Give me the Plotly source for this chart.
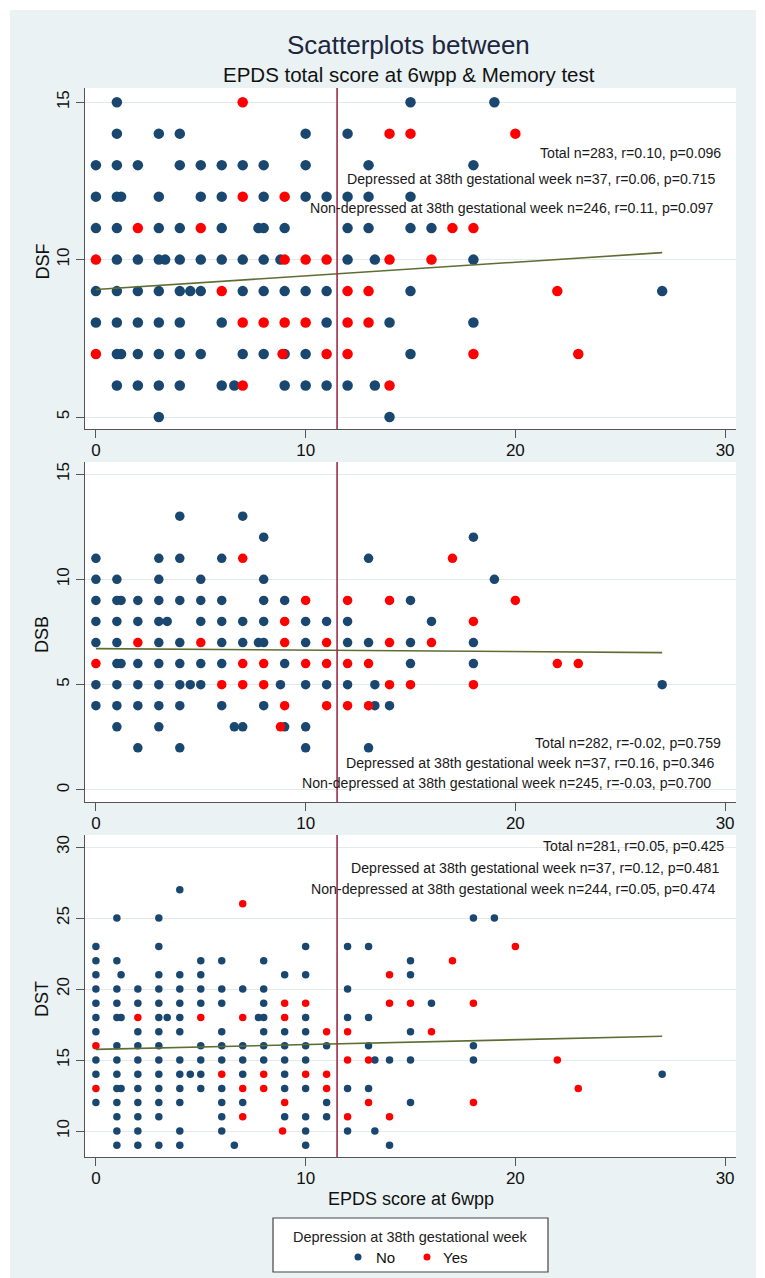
import plotly.graph_objects as go

# The page keeps the browser's default 8px body margin, so the figure is sized to
# fill the rest of the 765x1278 window and positions are given in window pixels.
PAGE_OFF = 8
W, H = 765 - PAGE_OFF, 1278 - PAGE_OFF

# ---------------- data ----------------
x_ticks = [0, 10, 20, 30]
cutoff = 11.5  # EPDS cut-off line

# DSF (rows: score -> EPDS values)
dsf_no = {
    15: [1, 15, 19],
    14: [1, 3, 4, 10, 12],
    13: [0, 1, 2, 4, 5, 6, 7, 8, 10, 13, 18],
    12: [0, 1, 1.2, 3, 5, 6, 8, 10, 11, 12, 13, 15],
    11: [0, 1, 3, 4, 6, 7.75, 8, 9, 12, 13, 15, 16],
    10: [1, 2, 3, 3.3, 4, 5, 6, 7, 8, 8.8, 12, 13.3, 18],
    9: [0, 1, 2, 3, 4, 4.5, 5, 7, 8, 9, 10, 11, 15, 27],
    8: [0, 1, 2, 3, 4, 6, 11, 14, 18],
    7: [1, 1.2, 2, 3, 4, 5, 7, 8, 9, 10, 15],
    6: [1, 2, 3, 4, 6, 6.6, 9, 10, 11, 12, 13.3],
    5: [3, 14],
}
dsf_yes = {
    15: [7],
    14: [14, 15, 20],
    12: [7, 9],
    11: [2, 5, 17, 18],
    10: [0, 9, 10, 11, 14, 16],
    9: [6, 12, 13, 22],
    8: [7, 8, 9, 10, 12, 13],
    7: [0, 8.9, 11, 12, 18, 23],
    6: [7, 14],
}
dsf_fit_x = [0, 27]
dsf_fit_y = [9.05, 10.22]
dsf_stats = ["Total n=283, r=0.10, p=0.096",
             "Depressed at 38th gestational week n=37, r=0.06, p=0.715",
             "Non-depressed at 38th gestational week n=246, r=0.11, p=0.097"]

# DSB
dsb_no = {
    13: [4, 7],
    12: [8, 18],
    11: [0, 3, 4, 6, 13],
    10: [0, 1, 3, 5, 8, 19],
    9: [0, 1, 1.2, 2, 3, 4, 5, 6, 8, 9, 15],
    8: [0, 1, 2, 3, 3.4, 5, 6, 7, 8, 10, 11, 12, 16],
    7: [0, 1, 3, 4, 6, 7, 7.75, 8, 10, 12, 13, 15, 18],
    6: [1, 1.2, 2, 3, 4, 5, 6, 9, 15, 18],
    5: [0, 1, 2, 3, 4, 4.5, 5, 8.8, 10, 11, 12, 13.3, 27],
    4: [0, 1, 2, 3, 4, 6, 8, 13.3, 14],
    3: [1, 3, 6.6, 7, 9, 10],
    2: [2, 4, 10, 13],
}
dsb_yes = {
    11: [7, 17],
    9: [10, 12, 14, 20],
    8: [9, 18],
    7: [2, 5, 9, 11, 14, 16],
    6: [0, 7, 8, 10, 11, 12, 13, 22, 23],
    5: [6, 7, 8, 14, 15, 18],
    4: [9, 11, 12, 13],
    3: [8.8],
}
dsb_fit_x = [0, 27]
dsb_fit_y = [6.71, 6.52]
dsb_stats = ["Total n=282, r=-0.02, p=0.759",
             "Depressed at 38th gestational week n=37, r=0.16, p=0.346",
             "Non-depressed at 38th gestational week n=245, r=-0.03, p=0.700"]

# DST
dst_no = {
    27: [4],
    25: [1, 3, 18, 19],
    23: [0, 3, 10, 12, 13],
    22: [0, 1, 5, 6, 8, 15],
    21: [0, 1.2, 3, 4, 5, 9, 10, 15],
    20: [0, 1, 2, 3, 4, 5, 6, 7, 8, 12],
    19: [0, 1, 2, 3, 4, 5, 6, 8, 16],
    18: [0, 1, 1.2, 3, 3.4, 4, 7.75, 8, 10, 12, 13],
    17: [0, 2, 3, 4, 6, 8, 9, 10, 15],
    16: [1, 2, 3, 5, 6, 7, 8, 9, 10, 11, 13, 18],
    15: [0, 1, 2, 3, 4, 5, 6, 7, 8, 9, 10, 13.3, 14, 15, 18],
    14: [0, 1, 2, 3, 4, 4.5, 5, 7, 9, 27],
    13: [1, 1.2, 2, 3, 4, 5, 6, 9, 10, 12, 13],
    12: [0, 1, 2, 3, 4, 6, 7, 11, 15],
    11: [1, 2, 3, 6, 9, 10, 11],
    10: [1, 2, 4, 6, 10, 12, 13.3],
    9: [1, 2, 3, 4, 6.6, 10, 14],
}
dst_yes = {
    26: [7],
    23: [20],
    22: [17],
    21: [14],
    19: [9, 10, 14, 15, 18],
    18: [2, 5, 7, 9],
    17: [11, 12, 16],
    16: [0],
    15: [12, 13, 22],
    14: [6, 8, 10, 11],
    13: [0, 7, 8, 11, 23],
    12: [9, 13, 18],
    11: [7, 12, 14],
    10: [8.9],
}
dst_fit_x = [0, 27]
dst_fit_y = [15.75, 16.67]
dst_stats = ["Total n=281, r=0.05, p=0.425",
             "Depressed at 38th gestational week n=37, r=0.12, p=0.481",
             "Non-depressed at 38th gestational week n=244, r=0.05, p=0.474"]

legend_title = "Depression at 38th gestational week"
legend_labels = ["No", "Yes"]

# ---------------- style ----------------
NAVY = "#1a476f"
RED = "#ff0000"
FIT = "#5d6e35"
VLINE = "#9b2d4b"
BG = "#eaf2f3"
AXC = "#555555"
FONT = "Liberation Sans, Arial, Helvetica, sans-serif"


def px_x(p):
    return (p - PAGE_OFF) / W


def px_y(p):
    return 1 - (p - PAGE_OFF) / H


def rows_to_xy(rows):
    xs, ys = [], []
    for yv, xl in rows.items():
        for xv in xl:
            xs.append(xv)
            ys.append(yv)
    return xs, ys


panels = [
    dict(no=dsf_no, yes=dsf_yes, fx=dsf_fit_x, fy=dsf_fit_y, title="DSF",
         yr=[4.62, 15.45], yt=[5, 10, 15], ms=10.5, top=88, bot=429,
         stats=dsf_stats, sy=[153, 179, 208], sx=[723, 717, 716]),
    dict(no=dsb_no, yes=dsb_yes, fx=dsb_fit_x, fy=dsb_fit_y, title="DSB",
         yr=[-0.57, 15.57], yt=[0, 5, 10, 15], ms=9.5, top=462, bot=802,
         stats=dsb_stats, sy=[743, 763, 783], sx=[723, 716, 713]),
    dict(no=dst_no, yes=dst_yes, fx=dst_fit_x, fy=dst_fit_y, title="DST",
         yr=[8.17, 30.85], yt=[10, 15, 20, 25, 30], ms=7.5, top=835, bot=1157,
         stats=dst_stats, sy=[846, 868, 889], sx=[726, 721, 718]),
]

fig = go.Figure()
annotations = []
shapes = []
X0, X1 = 85, 736

for i, p in enumerate(panels, start=1):
    xa = "x" if i == 1 else f"x{i}"
    ya = "y" if i == 1 else f"y{i}"
    nx, ny = rows_to_xy(p["no"])
    yx, yy = rows_to_xy(p["yes"])
    fig.add_trace(go.Scatter(x=nx, y=ny, mode="markers", name="No",
                             marker=dict(color=NAVY, size=p["ms"], line=dict(width=0)),
                             xaxis=xa, yaxis=ya, showlegend=False, hoverinfo="x+y"))
    fig.add_trace(go.Scatter(x=yx, y=yy, mode="markers", name="Yes",
                             marker=dict(color=RED, size=p["ms"], line=dict(width=0)),
                             xaxis=xa, yaxis=ya, showlegend=False, hoverinfo="x+y"))
    fig.add_trace(go.Scatter(x=p["fx"], y=p["fy"], mode="lines",
                             line=dict(color=FIT, width=1.6),
                             xaxis=xa, yaxis=ya, showlegend=False, hoverinfo="skip"))
    axis_common = dict(showline=True, linecolor=AXC, linewidth=1.2,
                       ticks="outside", ticklen=8, tickwidth=1.2, tickcolor=AXC,
                       zeroline=False,
                       tickfont=dict(family=FONT, size=17, color="#111111"))
    fig.layout[f"xaxis{'' if i == 1 else i}"] = dict(
        domain=[px_x(X0), px_x(X1)], anchor=ya, range=[-0.52, 30.52],
        tickvals=x_ticks, showgrid=False, ticklabelstandoff=-3, **axis_common)
    fig.layout[f"yaxis{'' if i == 1 else i}"] = dict(
        domain=[px_y(p["bot"]), px_y(p["top"])], anchor=xa, range=p["yr"],
        tickvals=p["yt"], showgrid=True, gridcolor="#e4eaea", gridwidth=1,
        tickangle=-90, ticklabelstandoff=0, **axis_common)
    shapes.append(dict(type="line", xref=xa, yref=f"{ya} domain",
                       x0=cutoff, x1=cutoff, y0=0, y1=1,
                       line=dict(color=VLINE, width=1.6)))
    annotations.append(dict(text=p["title"], xref="paper", yref="paper",
                            x=px_x(42), y=px_y((p["top"] + p["bot"]) / 2 + 3),
                            textangle=-90, showarrow=False,
                            xanchor="center", yanchor="middle",
                            font=dict(family=FONT, size=18, color="#111111")))
    for txt, sx, sy in zip(p["stats"], p["sx"], p["sy"]):
        annotations.append(dict(text=txt, xref="paper", yref="paper",
                                x=px_x(sx), y=px_y(sy), showarrow=False,
                                xanchor="right", yanchor="middle",
                                font=dict(family=FONT, size=14.15, color="#1a1a1a")))

annotations.append(dict(text="Scatterplots between", xref="paper", yref="paper",
                        x=px_x(408), y=px_y(45), showarrow=False,
                        xanchor="center", yanchor="middle",
                        font=dict(family=FONT, size=26, color="#1e2640")))
annotations.append(dict(text="EPDS total score at 6wpp & Memory test", xref="paper",
                        yref="paper", x=px_x(409), y=px_y(75), showarrow=False,
                        xanchor="center", yanchor="middle",
                        font=dict(family=FONT, size=20.5, color="#111111")))
annotations.append(dict(text="EPDS score at 6wpp", xref="paper", yref="paper",
                        x=px_x(411), y=px_y(1199), showarrow=False,
                        xanchor="center", yanchor="middle",
                        font=dict(family=FONT, size=18, color="#111111")))

# legend (drawn as a boxed key below the graphs)
annotations.append(dict(text=legend_title, xref="paper", yref="paper",
                        x=px_x(410), y=px_y(1237), showarrow=False,
                        xanchor="center", yanchor="middle",
                        font=dict(family=FONT, size=14.5, color="#222222")))
for lab, mx, tx, col in zip(legend_labels, [358, 427], [374, 441], [NAVY, RED]):
    shapes.append(dict(type="circle", xref="paper", yref="paper",
                       x0=px_x(mx - 3.5), x1=px_x(mx + 3.5),
                       y0=px_y(1257 + 3.5), y1=px_y(1257 - 3.5),
                       fillcolor=col, line=dict(width=0)))
    annotations.append(dict(text=lab, xref="paper", yref="paper",
                            x=px_x(tx), y=px_y(1257), showarrow=False,
                            xanchor="left", yanchor="middle",
                            font=dict(family=FONT, size=15, color="#111111")))
shapes.append(dict(type="rect", xref="paper", yref="paper",
                   x0=px_x(273), x1=px_x(548), y0=px_y(1272), y1=px_y(1218),
                   fillcolor="white", line=dict(color="#444444", width=1.2),
                   layer="below"))

# white outer margins around the bluish-gray graph region
shapes += [
    dict(type="rect", xref="paper", yref="paper", x0=0, x1=1, y0=px_y(10), y1=1,
         fillcolor="white", line=dict(width=0), layer="below"),
    dict(type="rect", xref="paper", yref="paper", x0=0, x1=px_x(10), y0=0, y1=1,
         fillcolor="white", line=dict(width=0), layer="below"),
    dict(type="rect", xref="paper", yref="paper", x0=px_x(756), x1=1, y0=0, y1=1,
         fillcolor="white", line=dict(width=0), layer="below"),
]

fig.update_layout(
    width=W, height=H,
    margin=dict(l=0, r=0, t=0, b=0),
    paper_bgcolor=BG, plot_bgcolor="white",
    font=dict(family=FONT, color="#111111"),
    shapes=shapes, annotations=annotations,
    showlegend=False,
    hovermode="closest",
)

fig.write_html("out.html")
